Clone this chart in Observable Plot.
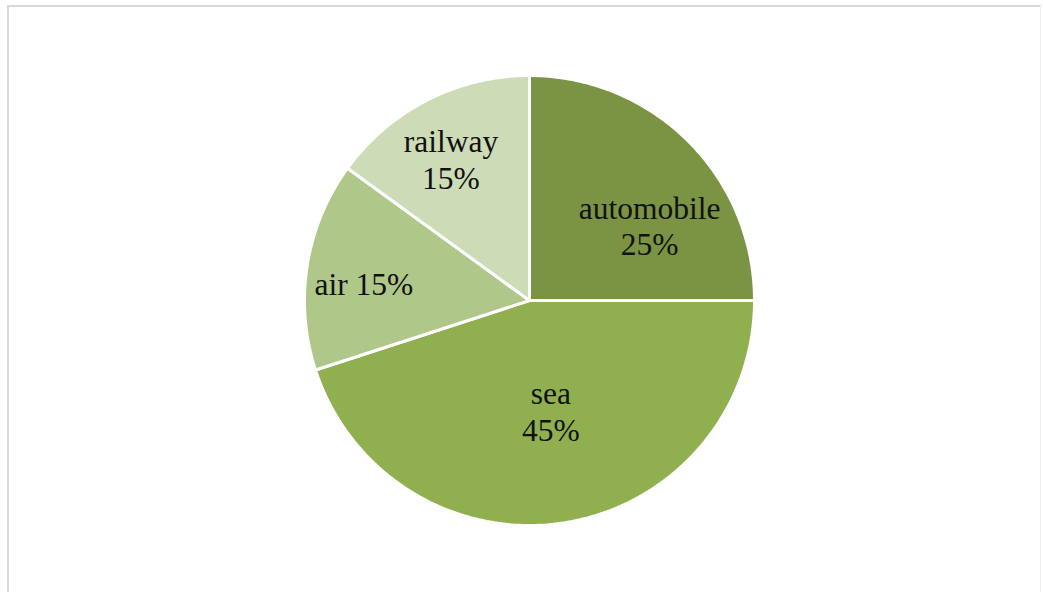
<!DOCTYPE html>
<html>
<head>
<meta charset="utf-8">
<script src="https://cdn.jsdelivr.net/npm/d3@7"></script>
<script src="https://cdn.jsdelivr.net/npm/@observablehq/plot@0.6"></script>
<style>
  html, body { margin: 0; padding: 0; background: #fff; }
  #wrap { position: relative; width: 1043px; height: 592px; overflow: hidden; }
  #frame { position: absolute; left: 7px; top: 5px; width: 1031px; height: 600px;
           border-top: 2px solid #d9d9d9; border-left: 2px solid #d9d9d9; border-right: 1px solid #efefef;
           pointer-events: none; }
  #chart svg text { font-family: "Liberation Serif", "Times New Roman", "DejaVu Serif", serif !important; }
</style>
</head>
<body>
<div id="wrap"><div id="chart"></div><div id="frame"></div></div>
<script>
// Data
const categories = ["automobile", "sea", "air", "railway"];
const values = [25, 45, 15, 15];
const colors = ["#7a9444", "#90b050", "#afc789", "#cddbb7"];
// Label placement (angle offset in degrees from slice middle, radial fraction)
const labelAngleShift = [13, -2, -3, -2];
const labelRadius = [0.63, 0.5, 0.74, 0.72];
const labelText = (c, p) => c === "air" ? `${c} ${p}%` : `${c}\n${p}%`;

const W = 1043, H = 592, R = 225, CX = 529, CY = 300;
const total = d3.sum(values);

const polys = [];
const labels = [];
let start = 0;
categories.forEach((c, i) => {
  const sweep = values[i] / total * 2 * Math.PI;
  const end = start + sweep;
  polys.push({category: c, x: 0, y: 0});
  const n = Math.max(2, Math.ceil(sweep / (Math.PI / 180)));
  for (let k = 0; k <= n; k++) {
    const a = start + sweep * k / n;
    polys.push({category: c, x: Math.sin(a), y: Math.cos(a)});
  }
  const mid = (start + end) / 2 + labelAngleShift[i] * Math.PI / 180;
  labels.push({category: c, x: labelRadius[i] * Math.sin(mid), y: labelRadius[i] * Math.cos(mid),
               text: labelText(c, Math.round(values[i] / total * 100))});
  start = end;
});

const chart = Plot.plot({
  width: W, height: H,
  margin: 0,
  x: {domain: [-CX / R, (W - CX) / R], axis: null},
  y: {domain: [-(H - CY) / R, CY / R], axis: null},
  color: {domain: categories, range: colors},
  marks: [
    Plot.line(polys, {x: "x", y: "y", z: "category", fill: "category", stroke: "white",
                      strokeWidth: 3, curve: "linear-closed", strokeLinejoin: "miter"}),
    Plot.text(labels, {x: "x", y: "y", text: "text", fontSize: 31.5, lineHeight: 1.16,
                       fill: "#111", fontFamily: "Liberation Serif, serif"})
  ],
  style: {background: "white", fontFamily: "Liberation Serif, serif"}
});
document.getElementById("chart").appendChild(chart);
</script>
</body>
</html>
